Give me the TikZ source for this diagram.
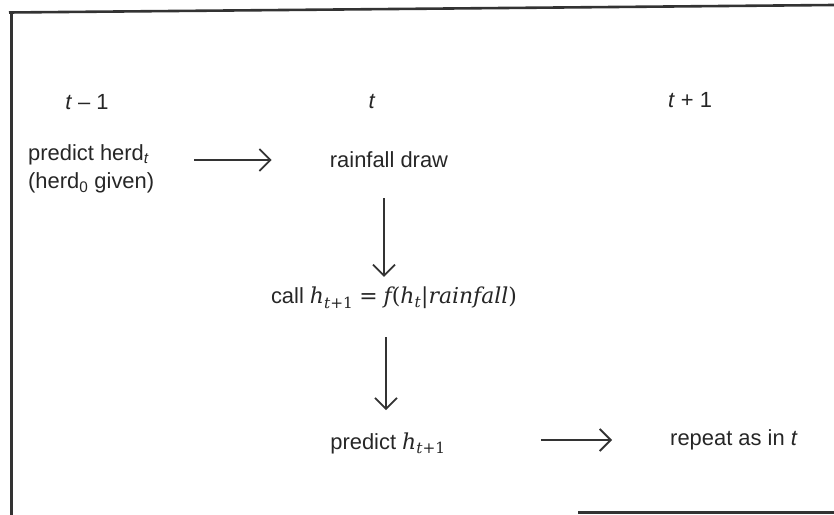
\documentclass[tikz,border=0pt]{standalone}
\usepackage{fontspec}
\setmainfont{Liberation Sans}
\newfontfamily\mfont{DejaVu Serif}
\usetikzlibrary{arrows.meta,calc}
\newcommand{\mv}[1]{{\mfont\itshape #1}}
\newcommand{\msub}[1]{\textsubscript{\mfont #1}}
\begin{document}
\begin{tikzpicture}[x=1bp,y=-1bp,
  lbl/.style={inner sep=0pt, font=\fontsize{22}{28}\selectfont, text=black!85},
  arr/.style={line width=1.8bp, draw=black!80, -{Straight Barb[length=11bp,width=22bp,line width=1.8bp]}},
  frame/.style={line width=2.6bp, draw=black!80}]
\useasboundingbox (0,0) rectangle (834,515);
% frame
\draw[frame] (9,12.5) -- (834,5);
\draw[frame] (11.5,11.5) -- (11.5,515);
\draw[frame] (578,512.5) -- (834,512.5);
% headers
\node[lbl] (tm1) at (87,102) {\textit{t} -- 1};
\node[lbl] (t0) at (372,102) {\textit{t}};
\node[lbl] (tp1) at (690,100) {\textit{t} + 1};
% nodes
\node[lbl, anchor=west, align=left] (pred) at (28,169) {predict herd\textsubscript{\textit{t}}\\(herd\textsubscript{0} given)};
\node[lbl] (rain) at (389,160) {rainfall draw};
\node[lbl] (call) at (394,298) {call \mv{h}\msub{\itshape t\upshape+1}\hspace{6bp}{\mfont=}\hspace{6bp}\mv{f}{\mfont(}\mv{h}\msub{\itshape t}{\mfont|}\mv{rainfall}{\mfont)}};
\node[lbl] (predh) at (388,443) {predict \mv{h}\msub{\itshape t\upshape+1}};
\node[lbl, anchor=west] (rep) at (670,440) {repeat as in \textit{t}};
% connectors
\draw[arr, shorten <=40bp, shorten >=58bp] (pred.east |- rain) -- (rain.west);
\draw[arr, shorten <=30bp, shorten >=10bp] ([xshift=-5bp]rain.south) -- ([xshift=-5bp]rain.south |- call.north);
\draw[arr, shorten <=28bp, shorten >=22bp] ([xshift=-8bp]call.south) -- ([xshift=-8bp]call.south |- predh.north);
\draw[arr, shorten <=95bp, shorten >=58bp] (predh.east |- rep) -- (rep.west);
\end{tikzpicture}
\end{document}
